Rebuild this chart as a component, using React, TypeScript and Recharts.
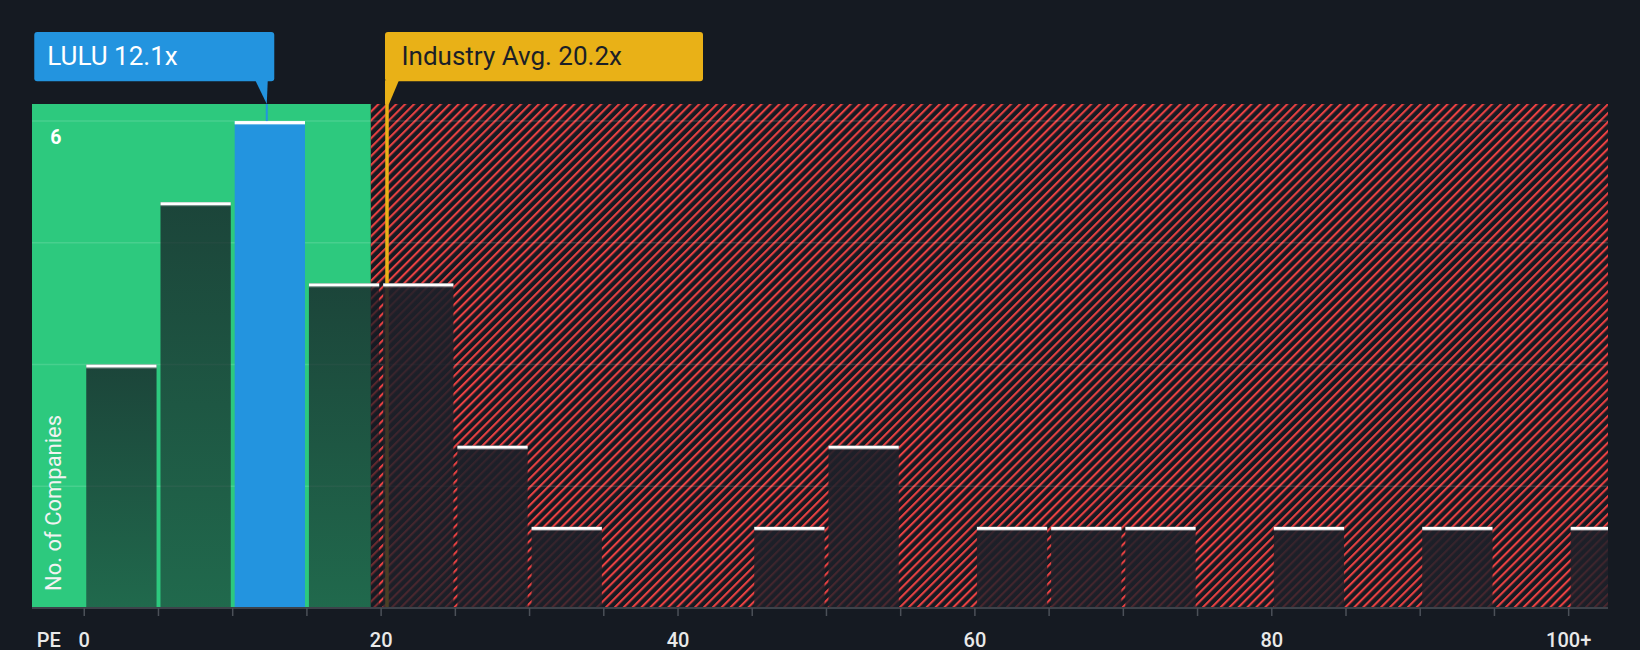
import React from "react";
import {
  Bar,
  ComposedChart,
  ReferenceArea,
  ReferenceLine,
  XAxis,
  YAxis,
} from "recharts";

// PE histogram, bins of 5x
const BIN_STARTS = [0, 5, 10, 15, 20, 25, 30, 45, 50, 60, 65, 70, 80, 90, 100];
const COUNTS = [3, 5, 6, 4, 4, 2, 1, 1, 2, 1, 1, 1, 1, 1, 1];
const BIN_WIDTH = 5;

const MINOR_TICKS = [0, 5, 10, 15, 20, 25, 30, 35, 40, 45, 50, 55, 60, 65, 70, 75, 80, 85, 90, 95, 100];
const TICK_VALUES = [0, 20, 40, 60, 80, 100];
const TICK_LABELS = ["0", "20", "40", "60", "80", "100+"];
const Y_TICKS = [6];
const GRID_VALUES = [1.5, 3, 4.5, 6];

const LULU_PE = 12.1;
const LULU_BIN = 10;
const INDUSTRY_PE = 20.2;
const FAIR_UPPER = 19.3;

const X_MIN = -3.52;
const X_MAX = 102.65;
const Y_MAX = 6.21;

const BG = "#151a22";
const GREEN = "#2dc97e";
const BLUE = "#2394df";
const GOLD = "#e9b117";
const RED = "#e84142";
const FONT = "Roboto, sans-serif";
const NUDGE = 2.9; // marker lines sit a touch right of the value in the original

const data = BIN_STARTS.map((start, i) => ({
  start,
  mid: start + BIN_WIDTH / 2,
  count: COUNTS[i],
}));
const luluCount = COUNTS[BIN_STARTS.indexOf(LULU_BIN)];

function BarShape(props: any) {
  const { x, y, width, height, payload } = props;
  if (!height || height <= 0) return <g />;
  let fill = "url(#shadeRed)";
  if (payload.start === LULU_BIN) fill = BLUE;
  else if (payload.start < FAIR_UPPER) fill = "url(#shadeGreen)";
  return (
    <g>
      <rect x={x} y={y} width={width} height={height} fill={fill} />
      <rect x={x} y={y} width={width} height={3} fill="#ffffff" />
      <rect x={x} y={y + 3} width={width} height={1} fill="rgba(255,255,255,0.35)" />
    </g>
  );
}

function NudgedLine(props: any) {
  const { x1, y1, x2, y2, stroke, strokeWidth } = props;
  if (x1 == null) return <g />;
  return <line x1={x1 + NUDGE} y1={y1} x2={x2 + NUDGE} y2={y2} stroke={stroke} strokeWidth={strokeWidth} />;
}

function XTick(props: any) {
  const { x, y, payload } = props;
  const i = TICK_VALUES.indexOf(payload.value);
  if (i < 0) return <g />;
  return (
    <g>
      {payload.value === 0 && (
        <text x={x - 47.6} y={y} dy={28.5} fill="#e9e9e9" fontSize={20} fontWeight={500} fontFamily={FONT} textAnchor="start">
          PE
        </text>
      )}
      <text x={x} y={y} dy={28.5} fill="#e9e9e9" fontSize={20} fontWeight={500} fontFamily={FONT} textAnchor="middle">
        {TICK_LABELS[i]}
      </text>
    </g>
  );
}

function YTick(props: any) {
  const { y, payload } = props;
  return (
    <text x={55.8} y={y + 22.5} fill="#ffffff" fontSize={19.5} fontWeight={700} fontFamily={FONT} textAnchor="middle">
      {payload.value}
    </text>
  );
}

function YLabel(props: any) {
  const vb = props.viewBox || { x: 32, y: 104, height: 504 };
  const cx = 53.6;
  const by = vb.y + vb.height - 17;
  return (
    <text
      x={cx}
      y={by}
      transform={`rotate(-90 ${cx} ${by})`}
      fill="#f2f2f2"
      fontSize={22}
      fontFamily={FONT}
      textAnchor="start"
      dominantBaseline="central"
    >
      No. of Companies
    </text>
  );
}

function LuluCallout(props: any) {
  const vb = props.viewBox;
  if (!vb) return null;
  const x = vb.x + NUDGE;
  const top = vb.y;
  const boxTop = top - 72;
  const boxH = 49.3;
  const boxBottom = boxTop + boxH;
  const left = x - 232.5;
  return (
    <g>
      <rect x={left} y={boxTop} width={240} height={boxH} rx={3} fill={BLUE} />
      <polygon points={`${x - 11.5},${boxBottom - 1} ${x + 1},${boxBottom - 1} ${x},${top}`} fill={BLUE} />
      <text x={left + 13} y={boxTop + 33.3} fill="#ffffff" fontSize={26} fontFamily={FONT}>
        LULU 12.1x
      </text>
    </g>
  );
}

function IndustryCallout(props: any) {
  const vb = props.viewBox;
  if (!vb) return null;
  const x = vb.x + NUDGE;
  const top = vb.y;
  const boxTop = top - 72;
  const boxH = 49.3;
  const boxBottom = boxTop + boxH;
  const left = x - 2;
  return (
    <g>
      <rect x={left} y={boxTop} width={318} height={boxH} rx={3} fill={GOLD} />
      <polygon points={`${left},${boxBottom - 1} ${x + 12},${boxBottom - 1} ${x + 2},${top} ${left},${top}`} fill={GOLD} />
      <text x={left + 16.5} y={boxTop + 33.3} fill="#1b1f27" fontSize={26} fontFamily={FONT}>
        Industry Avg. 20.2x
      </text>
    </g>
  );
}

export default function App() {
  return (
    <div style={{ position: "absolute", left: 0, top: 0, width: 1640, height: 650, background: BG }}>
      <ComposedChart
        width={1640}
        height={650}
        data={data}
        margin={{ top: 104, right: 32, left: 31, bottom: 0 }}
      >
        <defs>
          <pattern id="hatch" patternUnits="userSpaceOnUse" width={6.3} height={10} patternTransform="rotate(45)">
            <rect x={0} y={0} width={2.1} height={10} fill={RED} />
          </pattern>
          <linearGradient id="shadeGreen" x1="0" y1="0" x2="0" y2="1">
            <stop offset="0%" stopColor="#161b24" stopOpacity={0.76} />
            <stop offset="100%" stopColor="#161b24" stopOpacity={0.55} />
          </linearGradient>
          <linearGradient id="shadeRed" x1="0" y1="0" x2="0" y2="1">
            <stop offset="0%" stopColor="#1e2029" stopOpacity={0.9} />
            <stop offset="100%" stopColor="#1e2029" stopOpacity={0.78} />
          </linearGradient>
        </defs>

        <ReferenceArea x1={X_MIN} x2={FAIR_UPPER} fill={GREEN} fillOpacity={1} stroke="none" zIndex={-300} />
        <ReferenceArea x1={FAIR_UPPER} x2={X_MAX} fill="url(#hatch)" fillOpacity={1} stroke="none" zIndex={-300} />

        {GRID_VALUES.map((v) => (
          <ReferenceLine key={v} y={v} stroke="rgba(255,255,255,0.13)" strokeWidth={1.5} zIndex={-250} />
        ))}

        <ReferenceLine
          x={INDUSTRY_PE}
          stroke={GOLD}
          strokeWidth={3.5}
          zIndex={-200}
          shape={NudgedLine}
          label={IndustryCallout}
        />

        <XAxis
          type="number"
          dataKey="mid"
          domain={[X_MIN, X_MAX]}
          allowDataOverflow
          ticks={MINOR_TICKS}
          interval={0}
          tickSize={8}
          tickLine={{ stroke: "#4b5058", strokeWidth: 1.5 }}
          axisLine={{ stroke: "#3d424a", strokeWidth: 2 }}
          tick={<XTick />}
          height={42}
        />
        <YAxis
          type="number"
          domain={[0, Y_MAX]}
          allowDataOverflow
          ticks={Y_TICKS}
          width={1}
          axisLine={false}
          tickLine={false}
          tick={<YTick />}
          label={YLabel}
        />

        <Bar dataKey="count" barSize={70.3} shape={BarShape} isAnimationActive={false} />

        <ReferenceLine
          segment={[
            { x: LULU_PE, y: luluCount },
            { x: LULU_PE, y: Y_MAX },
          ]}
          stroke={BLUE}
          strokeWidth={2}
          zIndex={600}
          shape={NudgedLine}
          label={LuluCallout}
        />
      </ComposedChart>
    </div>
  );
}
